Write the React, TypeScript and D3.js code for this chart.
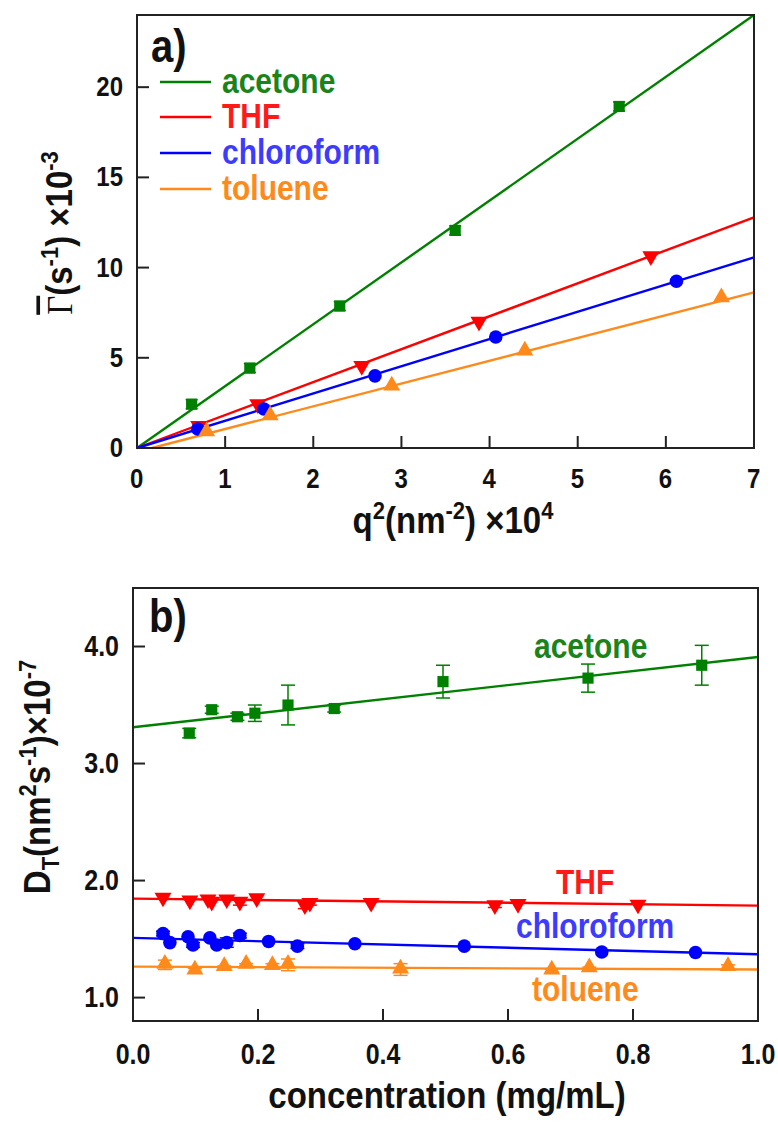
import React from 'react';
import * as d3 from 'd3';

// ---------- Panel a data ----------
const q2Acetone = [0.62, 1.28, 2.3, 3.61, 5.47];
const gammaAcetone = [2.43, 4.43, 7.87, 12.06, 18.93];
const q2THF = [0.7, 1.37, 2.55, 3.88, 5.83];
const gammaTHF = [1.22, 2.43, 4.55, 7.0, 10.63];
const q2Chloro = [0.69, 1.44, 2.7, 4.07, 6.12];
const gammaChloro = [1.05, 2.16, 4.0, 6.15, 9.24];
const q2Toluene = [0.79, 1.51, 2.89, 4.4, 6.63];
const gammaToluene = [0.87, 1.75, 3.4, 5.35, 8.3];
const fitAStartX = [0, 0, 0, 0.17];
const fitAStartY = [0, 0, 0, 0];
const fitAEndX = [7, 7, 7, 7];
const fitAEndY = [24, 12.78, 10.57, 8.63];
const xTicksA = [0, 1, 2, 3, 4, 5, 6, 7];
const yTicksA = [0, 5, 10, 15, 20];

// ---------- Panel b data ----------
const concAcetone = [0.09, 0.126, 0.167, 0.195, 0.248, 0.322, 0.496, 0.728, 0.91];
const dAcetone = [3.26, 3.46, 3.4, 3.43, 3.5, 3.47, 3.7, 3.73, 3.84];
const errAcetone = [0.04, 0.03, 0.03, 0.07, 0.17, 0.03, 0.14, 0.12, 0.17];
const concTHF = [0.048, 0.091, 0.12, 0.126, 0.15, 0.171, 0.198, 0.275, 0.283, 0.381, 0.579, 0.616, 0.808];
const dTHF = [1.855, 1.83, 1.84, 1.82, 1.84, 1.82, 1.85, 1.79, 1.81, 1.81, 1.79, 1.8, 1.795];
const errTHF = [0, 0, 0, 0, 0, 0.03, 0, 0.03, 0.02, 0, 0.02, 0, 0];
const concChloro = [0.048, 0.059, 0.088, 0.096, 0.123, 0.134, 0.15, 0.171, 0.217, 0.263, 0.355, 0.53, 0.75, 0.9];
const dChloro = [1.547, 1.47, 1.52, 1.45, 1.51, 1.45, 1.47, 1.53, 1.48, 1.44, 1.46, 1.44, 1.39, 1.385];
const errChloro = [0.02, 0, 0, 0.02, 0, 0, 0.04, 0.02, 0, 0.02, 0, 0, 0, 0];
const concToluene = [0.051, 0.099, 0.146, 0.181, 0.223, 0.248, 0.428, 0.67, 0.73, 0.952];
const dToluene = [1.28, 1.23, 1.26, 1.28, 1.27, 1.28, 1.24, 1.23, 1.25, 1.26];
const errToluene = [0.04, 0.02, 0.01, 0.01, 0.02, 0.05, 0.05, 0.01, 0.01, 0.02];
const fitBStart = [3.31, 1.846, 1.51, 1.265];
const fitBEnd = [3.91, 1.786, 1.37, 1.24];
const xTicksB = [0, 0.2, 0.4, 0.6, 0.8, 1.0];
const yTicksB = [1, 2, 3, 4];

const names = ['acetone', 'THF', 'chloroform', 'toluene'];
const colors = ['#008000', '#ff0000', '#0000ff', '#ff8a1c'];
const textColors = ['#1a841a', '#ff1a1a', '#3c3cff', '#ff8a1c'];

const FONT = '"Liberation Sans", Arial, Helvetica, sans-serif';

const symSquare = d3.symbol().type(d3.symbolSquare).size(125)();
const symCircle = d3.symbol().type(d3.symbolCircle).size(145)();
const symTri = d3.symbol().type(d3.symbolTriangle).size(125)();

function Marker({ kind, x, y, color }: { kind: number; x: number; y: number; color: string }) {
  if (kind === 0) return <path d={symSquare as string} transform={`translate(${x},${y})`} fill={color} />;
  if (kind === 1) return <path d={symTri as string} transform={`translate(${x},${y}) rotate(180)`} fill={color} />;
  if (kind === 2) return <path d={symCircle as string} transform={`translate(${x},${y})`} fill={color} />;
  return <path d={symTri as string} transform={`translate(${x},${y - 1})`} fill={color} />;
}

function TallText({ x, y, size, fill, children }: { x: number; y: number; size: number; fill: string; children: any }) {
  return (
    <text transform={`translate(${x},${y}) scale(1,1.15)`} fontSize={size} fill={fill}>{children}</text>
  );
}

export default function App() {
  const xa = d3.scaleLinear().domain([0, 7]).range([137, 754]);
  const ya = d3.scaleLinear().domain([0, 24]).range([448, 15]);
  const xb = d3.scaleLinear().domain([0, 1]).range([133, 758]);
  const yb = d3.scaleLinear().domain([0.8, 4.5]).range([1021, 588]);

  const seriesA = [
    [q2Acetone, gammaAcetone],
    [q2THF, gammaTHF],
    [q2Chloro, gammaChloro],
    [q2Toluene, gammaToluene],
  ];
  const seriesB = [
    [concAcetone, dAcetone, errAcetone],
    [concTHF, dTHF, errTHF],
    [concChloro, dChloro, errChloro],
    [concToluene, dToluene, errToluene],
  ];
  const line = d3.line<[number, number]>();
  const tickLen = 12;
  const legendY = [82, 117, 153, 189];
  const bLabelX = [534, 556, 516, 532];
  const bLabelY = [658, 894, 938, 1001];

  return (
    <svg width={778} height={1123} style={{ position: 'absolute', left: 0, top: 0, background: '#fff' }} fontFamily={FONT} fontWeight="bold">
      <rect x={0} y={0} width={778} height={1123} fill="#fff" />
      {/* ===== Panel a ===== */}
      <g>
        {seriesA.map((s, i) => (
          <path key={'fa' + i}
            d={line([[xa(fitAStartX[i]), ya(fitAStartY[i])], [xa(fitAEndX[i]), ya(fitAEndY[i])]]) as string}
            stroke={colors[i]} strokeWidth={2.4} fill="none" />
        ))}
        {seriesA.map((s, i) => (
          <g key={'ma' + i}>
            {s[0].map((x, j) => (
              <g key={j}>
                {i === 0 && (
                  <g stroke={colors[i]} strokeWidth={1.5}>
                    <line x1={xa(x)} x2={xa(x)} y1={ya(s[1][j] - 0.25)} y2={ya(s[1][j] + 0.25)} />
                    <line x1={xa(x) - 6} x2={xa(x) + 6} y1={ya(s[1][j] - 0.25)} y2={ya(s[1][j] - 0.25)} />
                    <line x1={xa(x) - 6} x2={xa(x) + 6} y1={ya(s[1][j] + 0.25)} y2={ya(s[1][j] + 0.25)} />
                  </g>
                )}
                <Marker kind={i} x={xa(x)} y={ya(s[1][j])} color={colors[i]} />
              </g>
            ))}
          </g>
        ))}
        <rect x={137} y={15} width={617} height={433} fill="none" stroke="#222" strokeWidth={2} />
        {xTicksA.map((t) => (
          <g key={'xta' + t}>
            <line x1={xa(t)} x2={xa(t)} y1={448} y2={448 - tickLen} stroke="#222" strokeWidth={2} />
            <TallText x={xa(t) - 7} y={488} size={24} fill="#111">{t}</TallText>
          </g>
        ))}
        {yTicksA.map((t) => (
          <g key={'yta' + t}>
            <line x1={137} x2={137 + tickLen} y1={ya(t)} y2={ya(t)} stroke="#222" strokeWidth={2} />
            <text transform={`translate(123,${ya(t) + 9}) scale(1,1.15)`} textAnchor="end" fontSize={24} fill="#111">{t}</text>
          </g>
        ))}
        <TallText x={151} y={62} size={40} fill="#111">a)</TallText>
        {names.map((n, i) => (
          <g key={'lg' + i}>
            <line x1={160} x2={211} y1={legendY[i]} y2={legendY[i]} stroke={colors[i]} strokeWidth={2.5} />
            <TallText x={222} y={legendY[i] + 10.5} size={30} fill={textColors[i]}>{n}</TallText>
          </g>
        ))}
        <text transform="translate(453,533) scale(1,1.1)" textAnchor="middle" fontSize={33} fill="#111">
          q<tspan dy={-13} fontSize={22}>2</tspan><tspan dy={13}>(nm</tspan><tspan dy={-13} fontSize={22}>-2</tspan><tspan dy={13}>) ×10</tspan><tspan dy={-13} fontSize={22}>4</tspan>
        </text>
        <text transform="translate(72,233) rotate(-90) scale(1,1.1)" textAnchor="middle" fontSize={33} fill="#111">
          <tspan fontFamily='"Liberation Serif", "Times New Roman", serif' fontWeight="normal" style={{ textDecoration: 'overline' }}>Γ</tspan>(s<tspan dy={-13} fontSize={22}>-1</tspan><tspan dy={13}>) ×10</tspan><tspan dy={-13} fontSize={22}>-3</tspan>
        </text>
      </g>

      {/* ===== Panel b ===== */}
      <g>
        {seriesB.map((s, i) => (
          <path key={'fb' + i}
            d={line([[xb(0), yb(fitBStart[i])], [xb(1), yb(fitBEnd[i])]]) as string}
            stroke={colors[i]} strokeWidth={2.4} fill="none" />
        ))}
        {seriesB.map((s, i) => (
          <g key={'mb' + i}>
            {s[0].map((x, j) => {
              const v = s[1][j];
              const e = s[2][j];
              const cx = xb(x);
              return (
                <g key={j}>
                  {e > 0 && (
                    <g stroke={colors[i]} strokeWidth={1.5}>
                      <line x1={cx} x2={cx} y1={yb(v - e)} y2={yb(v + e)} />
                      <line x1={cx - 7} x2={cx + 7} y1={yb(v - e)} y2={yb(v - e)} />
                      <line x1={cx - 7} x2={cx + 7} y1={yb(v + e)} y2={yb(v + e)} />
                    </g>
                  )}
                  <Marker kind={i} x={cx} y={yb(v)} color={colors[i]} />
                </g>
              );
            })}
          </g>
        ))}
        <rect x={133} y={588} width={625} height={433} fill="none" stroke="#222" strokeWidth={2} />
        {xTicksB.map((t) => (
          <g key={'xtb' + t}>
            <line x1={xb(t)} x2={xb(t)} y1={1021} y2={1021 - tickLen} stroke="#222" strokeWidth={2} />
            <text transform={`translate(${xb(t)},1064) scale(1,1.15)`} textAnchor="middle" fontSize={25} fill="#111">{d3.format('.1f')(t)}</text>
          </g>
        ))}
        {yTicksB.map((t) => (
          <g key={'ytb' + t}>
            <line x1={133} x2={133 + tickLen} y1={yb(t)} y2={yb(t)} stroke="#222" strokeWidth={2} />
            <text transform={`translate(119,${yb(t) + 9}) scale(1,1.15)`} textAnchor="end" fontSize={25} fill="#111">{d3.format('.1f')(t)}</text>
          </g>
        ))}
        <TallText x={149} y={632} size={40} fill="#111">b)</TallText>
        {names.map((n, i) => (
          <TallText key={'bl' + i} x={bLabelX[i]} y={bLabelY[i]} size={30} fill={textColors[i]}>{n}</TallText>
        ))}
        <text transform="translate(447,1108) scale(1,1.1)" textAnchor="middle" fontSize={33} fill="#111">concentration (mg/mL)</text>
        <text transform="translate(50,777) rotate(-90) scale(1,1.1)" textAnchor="middle" fontSize={33} fill="#111">
          D<tspan dy={8} fontSize={22}>T</tspan><tspan dy={-8}>(nm</tspan><tspan dy={-13} fontSize={22}>2</tspan><tspan dy={13}>s</tspan><tspan dy={-13} fontSize={22}>-1</tspan><tspan dy={13}>)×10</tspan><tspan dy={-13} fontSize={22}>-7</tspan>
        </text>
      </g>
    </svg>
  );
}
